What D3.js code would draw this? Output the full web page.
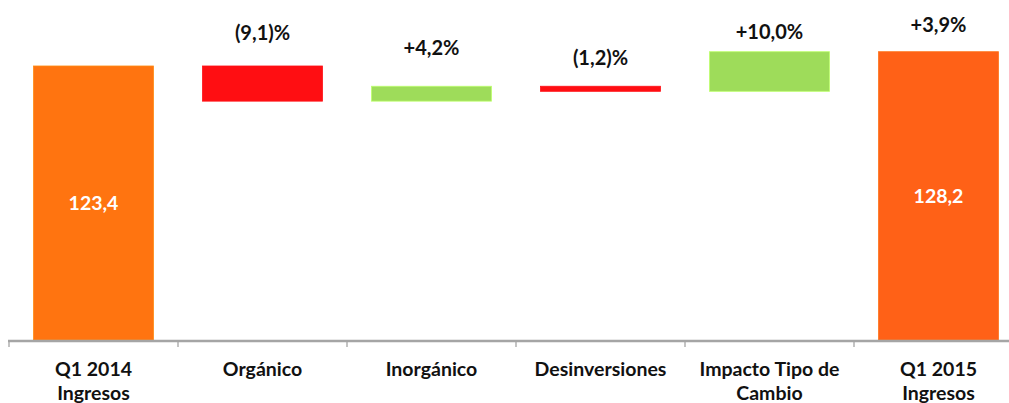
<!DOCTYPE html>
<html><head><meta charset="utf-8">
<script src="https://cdn.jsdelivr.net/npm/d3@7"></script>
<style>
html,body{margin:0;padding:0;background:#fff;}
svg{display:block;font-family:Lato,"Open Sans",sans-serif;}
</style></head>
<body><svg id="c" width="1009" height="403"></svg>
<script>
// ---- data ----
const categories = ["Q1 2014\nIngresos","Orgánico","Inorgánico","Desinversiones","Impacto Tipo de\nCambio","Q1 2015\nIngresos"];
const kinds = ["total","delta","delta","delta","delta","total"];
const values = [123.4, -11.8, 5.0, -1.7, 13.3, 128.2];
const topLabels = ["", "(9,1)%", "+4,2%", "(1,2)%", "+10,0%", "+3,9%"];
const innerLabels = ["123,4", "", "", "", "", "128,2"];
const axisMin = 31.4;

// ---- layout / style ----
const W = 1009, H = 403;
const baseY = 340;
const colors = {total0:"#FF7410", totalN:"#FF6117", up:"#9EDC5A", down:"#FF0E12"};
const labelDy = [0, 33, 38, 28, 20, 27];

const svg = d3.select("#c");

// build waterfall segments
let running = 0;
const segs = values.map((v,i)=>{
  let y0,y1;
  if(kinds[i]==="total"){ y0 = axisMin; y1 = v; running = v; }
  else { y0 = running; y1 = running + v; running = y1; }
  return {i, cat:categories[i], kind:kinds[i], v, lo:Math.min(y0,y1), hi:Math.max(y0,y1)};
});

const x = d3.scaleBand().domain(categories).range([9, 9+6*169]).paddingInner(0.29).paddingOuter(0.145);
const y = d3.scaleLinear().domain([axisMin, 128.2]).range([baseY, 51.7]);

function fillOf(d){
  if(d.kind==="total") return d.i===0?colors.total0:colors.totalN;
  return d.v>=0?colors.up:colors.down;
}

svg.append("g").selectAll("rect").data(segs).join("rect")
  .attr("x", d=>x(d.cat))
  .attr("width", x.bandwidth())
  .attr("y", d=>y(d.hi))
  .attr("height", d=>Math.max(4, y(d.lo)-y(d.hi)))
  .attr("fill", fillOf)
  .attr("stroke", d=>d3.color(fillOf(d)).brighter(0.5))
  .attr("stroke-width", 0.8);

// axis
const axisG = svg.append("g").attr("transform",`translate(0,${baseY+1})`);
const xb = d3.scaleLinear().domain([0,6]).range([9, 9+6*169]);
axisG.append("line").attr("x1",8).attr("x2",W).attr("y1",0).attr("y2",0)
  .attr("stroke","#A5A5A5").attr("stroke-width",2.6);
axisG.selectAll("line.tick").data(d3.range(0,7)).join("line").attr("class","tick")
  .attr("x1",d=>xb(d)).attr("x2",d=>xb(d)).attr("y1",0).attr("y2",6)
  .attr("stroke","#A5A5A5").attr("stroke-width",1.3);

// category labels
const catG = svg.append("g");
categories.forEach((c,i)=>{
  const lines = c.split("\n");
  const t = catG.append("text").attr("x", x(c)+x.bandwidth()/2).attr("y", 376)
    .attr("text-anchor","middle").attr("font-weight","bold").attr("font-size",19.5).attr("fill","#111");
  lines.forEach((l,j)=>t.append("tspan").attr("x", x(c)+x.bandwidth()/2).attr("dy", j===0?0:23.5).text(l));
});

// top labels
svg.append("g").selectAll("text").data(segs.filter(d=>topLabels[d.i])).join("text")
  .attr("x", d=>x(d.cat)+x.bandwidth()/2)
  .attr("y", d=>y(d.hi)-labelDy[d.i])
  .attr("dy","0.35em")
  .attr("text-anchor","middle").attr("font-weight","bold").attr("font-size",20).attr("fill","#111")
  .text(d=>topLabels[d.i]);

// inner labels
svg.append("g").selectAll("text").data(segs.filter(d=>innerLabels[d.i])).join("text")
  .attr("x", d=>x(d.cat)+x.bandwidth()/2)
  .attr("y", d=>(y(d.hi)+y(d.lo))/2)
  .attr("dy","0.35em")
  .attr("text-anchor","middle").attr("font-weight","bold").attr("font-size",19.5).attr("fill","#fff")
  .text(d=>innerLabels[d.i]);
</script></body></html>
